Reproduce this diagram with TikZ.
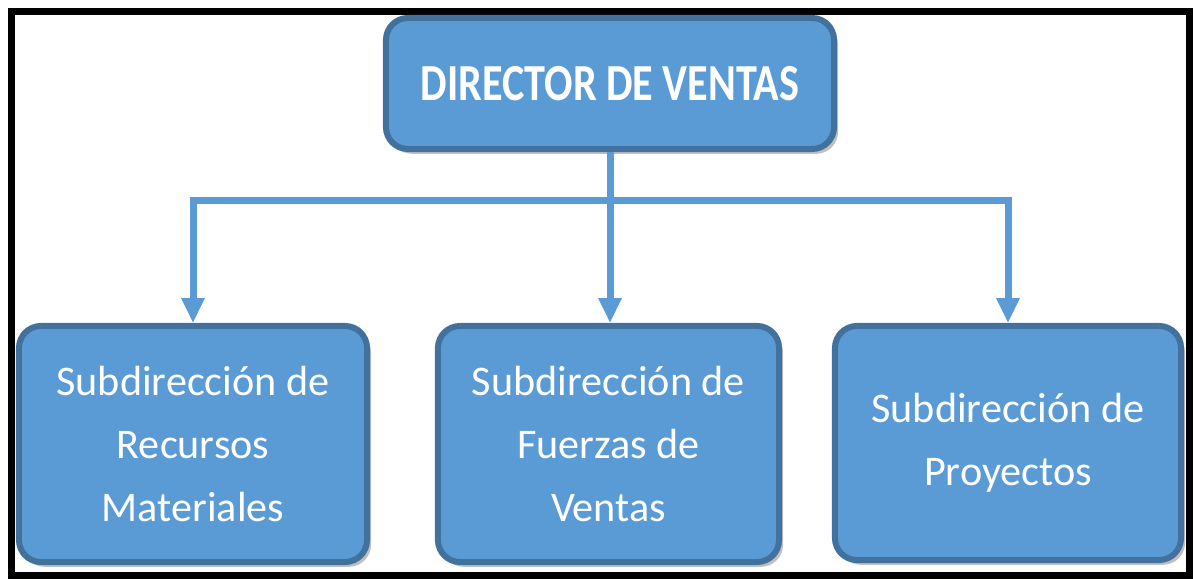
\documentclass[tikz,border=0pt]{standalone}
\usepackage{fontspec}
\setmainfont{Carlito}
\newfontfamily\headfont[FakeStretch=0.81]{Carlito}
\usetikzlibrary{arrows.meta}
\usetikzlibrary{shadows}
\definecolor{boxfill}{RGB}{91,155,213}
\definecolor{boxline}{RGB}{65,113,156}
\tikzset{>={Triangle[width=.55cm,length=.62cm]}}
\tikzset{
	orgbox/.style={draw=boxline, line width=.15cm, fill=boxfill, rounded corners=.55cm,
		text=white, align=center, inner sep=0pt,
		drop shadow={shadow xshift=.1cm, shadow yshift=-.12cm, opacity=.25, fill=black}},
	headbox/.style={orgbox, font=\headfont\fontsize{37}{44}\selectfont\bfseries},
	subbox/.style={orgbox, minimum height=5.9cm, font=\fontsize{30}{45}\selectfont},
	link/.style={draw=boxfill, line width=.175cm},
}

\begin{document}
\begin{tikzpicture}[x=.025cm,y=-.025cm]
\useasboundingbox (0,0) rectangle (1193,579);

% outer frame
\draw[line width=.175cm] (11.5,11) rectangle (1189.5,575.5);

% director
\node[headbox, minimum width=11.2cm, minimum height=3.275cm] (dir) at (610,83.5) {DIRECTOR DE VENTAS};

% subdirecciones
\node[subbox, minimum width=8.7cm] (recursos) at (193,444) {Subdirección de\\Recursos\\Materiales};
\node[subbox, minimum width=8.525cm] (fuerzas) at (608.5,444) {Subdirección de\\Fuerzas de\\Ventas};
\node[subbox, minimum width=8.65cm, minimum height=5.85cm] (proyectos) at (1008,443) {Subdirección de\\Proyectos};

% connectors
\coordinate (bus) at (609,200);
\draw[link,->] (bus) -| (recursos.north);
\draw[link,->] (bus) -| (proyectos.north);
\draw[link,->] (dir.south) -- (dir.south |- fuerzas.north);

\end{tikzpicture}
\end{document}
